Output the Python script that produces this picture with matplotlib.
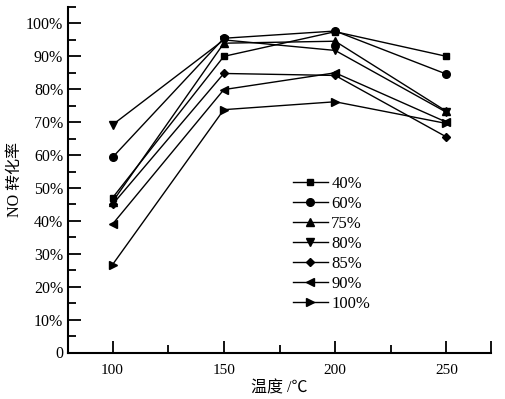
import numpy as np
import matplotlib
matplotlib.use("Agg")
import matplotlib.pyplot as plt
from matplotlib.ticker import FuncFormatter

plt.rcParams['font.family'] = ['Liberation Serif', 'Noto Sans CJK SC', 'DejaVu Sans']

temps = [100, 150, 200, 250]
labels = ['40%', '60%', '75%', '80%', '85%', '90%', '100%']
conv_40 = [47, 90, 97.5, 90]
conv_60 = [59.3, 95.5, 97.7, 84.6]
conv_75 = [45.8, 94, 94.6, 73.3]
conv_80 = [69.2, 95, 91.8, 73]
conv_85 = [45, 84.8, 84.2, 65.5]
conv_90 = [39, 79.9, 85, 70]
conv_100 = [26.7, 73.8, 76.2, 69.6]
series = [conv_40, conv_60, conv_75, conv_80, conv_85, conv_90, conv_100]
markers = ['s', 'o', '^', 'v', 'D', '<', '>']
msizes = [4.8, 5.5, 5.5, 5.5, 4.5, 5.5, 5.5]

fig = plt.figure(figsize=(5.06, 3.99), dpi=100)
ax = fig.add_axes([68/506, 1-352.5/399, (491-68)/506, (352.5-7)/399])

for vals, m, ms, lab in zip(series, markers, msizes, labels):
    ax.plot(temps, vals, color='black', lw=1.0, marker=m, ms=ms, label=lab)

ax.set_xlim(80, 270)
ax.set_ylim(0, 105)
ax.set_xticks([100, 150, 200, 250, 270])
ax.set_xticklabels(['100', '150', '200', '250', ''])
ax.set_xticks([125, 175, 225], minor=True)
ax.set_yticks(np.arange(0, 101, 10))
ax.set_yticks(np.arange(5, 106, 10), minor=True)
ax.yaxis.set_major_formatter(FuncFormatter(lambda v, p: '0' if v == 0 else '%d%%' % v))

for s in ['top', 'right']:
    ax.spines[s].set_visible(False)
for s in ['left', 'bottom']:
    ax.spines[s].set_linewidth(1.5)
ax.tick_params(which='major', direction='in', length=9, width=1.3, labelsize=11.5)
ax.tick_params(which='minor', direction='in', length=6, width=1.3)
ax.tick_params(axis='x', labelsize=11, pad=8)

ax.set_xlabel('温度 /℃', fontsize=11.5, labelpad=3)
ax.set_ylabel('NO 转化率', fontsize=11.5, labelpad=2)

ax.legend(loc='upper left', bbox_to_anchor=(293/506, 1-176/399),
          bbox_transform=fig.transFigure, frameon=False, fontsize=12,
          handlelength=2.1, handletextpad=0.2, labelspacing=0.24,
          borderpad=0, borderaxespad=0)

fig.savefig('out.png', dpi=100)
